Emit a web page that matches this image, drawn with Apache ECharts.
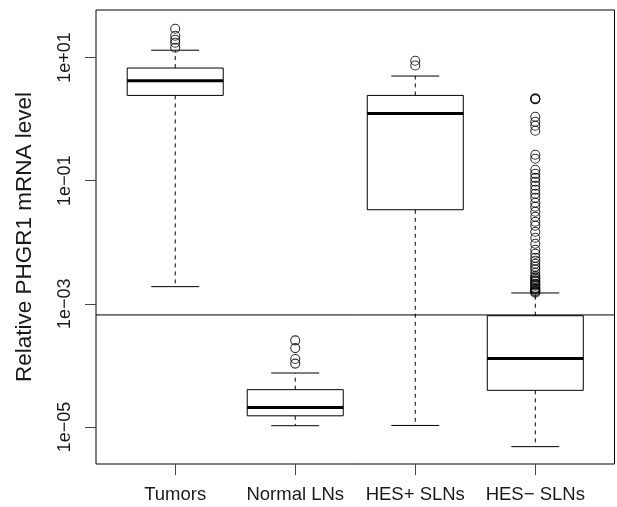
<!DOCTYPE html>
<html><head><meta charset="utf-8">
<script src="https://cdn.jsdelivr.net/npm/echarts@6/dist/echarts.min.js"></script>
<style>html,body{margin:0;padding:0;background:#fff}#c{width:617px;height:507px}</style>
</head><body><div id="c"></div>
<script>
const categories = ['Tumors', 'Normal LNs', 'HES+ SLNs', 'HES\u2212 SLNs'];
// [lower whisker, Q1, median, Q3, upper whisker]
const tumorsBox = [0.0019, 2.42, 4.19, 6.73, 13.1];
const normalBox = [1.05e-5, 1.52e-5, 2.08e-5, 4.04e-5, 7.53e-5];
const hesPosBox = [1.06e-5, 0.0337, 1.23, 2.42, 4.99];
const hesNegBox = [4.8e-6, 3.94e-5, 1.29e-4, 6.41e-4, 0.0015];
const tumorsOut = [29.2, 22.5, 19.4, 17.3, 14.4];
const normalOut = [2.55e-4, 1.91e-4, 1.27e-4, 1.07e-4];
const hesPosOut = [8.83, 7.41];
const hesNegOut = [2.18, 2.12, 2.09, 1.09, 0.904, 0.778, 0.646, 0.263, 0.227, 0.150, 0.129, 0.111,
  0.0959, 0.0826, 0.0711, 0.0612, 0.0527, 0.0438, 0.0377, 0.0313, 0.0259, 0.0215, 0.0185, 0.0148,
  0.0118, 0.00946, 0.00755, 0.00650, 0.00560, 0.00501, 0.00448, 0.00400, 0.00363, 0.00320, 0.00286,
  0.00270, 0.00255, 0.00240, 0.00229, 0.00212, 0.00205, 0.00197, 0.00182, 0.00175, 0.00169, 0.00162,
  0.00157, 0.00152];
const thresholdLine = [6.6e-4];
const yTicks = [1e-5, 1e-3, 1e-1, 10];
const yTickLabels = ['1e\u221205', '1e\u221203', '1e\u221201', '1e+01'];

const boxes = [tumorsBox, normalBox, hesPosBox, hesNegBox];
const outs = [tumorsOut, normalOut, hesPosOut, hesNegOut];
const boxData = boxes.map((b, i) => [i + 1].concat(b));
const outData = [];
outs.forEach((arr, i) => arr.forEach(v => outData.push([i + 1, v])));

const font = 'Liberation Sans, Arial, Helvetica, sans-serif';
const chart = echarts.init(document.getElementById('c'), null, {renderer: 'canvas'});
chart.setOption({
  animation: false,
  backgroundColor: '#fff',
  grid: {left: 96, right: 2.5, top: 10, bottom: 43, show: true, borderColor: '#000', borderWidth: 1, backgroundColor: 'transparent'},
  xAxis: {
    type: 'value', min: 0.34, max: 4.66,
    axisLine: {show: false},
    splitLine: {show: false},
    axisTick: {show: true, customValues: [1, 2, 3, 4], length: 11, lineStyle: {color: '#444', width: 1}},
    axisLabel: {customValues: [1, 2, 3, 4], formatter: v => categories[Math.round(v) - 1], margin: 21,
      fontSize: 18.5, color: '#1a1a1a', fontFamily: font}
  },
  yAxis: {
    type: 'log', logBase: 10, min: 2.51e-6, max: 58.9,
    axisLine: {show: false},
    splitLine: {show: false},
    axisTick: {show: true, customValues: yTicks, length: 11, lineStyle: {color: '#444', width: 1}},
    axisLabel: {customValues: yTicks, rotate: 90, margin: 22, fontSize: 18, color: '#1a1a1a', fontFamily: font,
      formatter: v => { const k = yTicks.findIndex(t => Math.abs(Math.log10(t) - Math.log10(v)) < 1e-6); return k >= 0 ? yTickLabels[k] : ''; }},
    name: 'Relative PHGR1 mRNA level', nameLocation: 'middle', nameRotate: 90, nameGap: 60,
    nameTextStyle: {fontSize: 22.5, color: '#1a1a1a', fontFamily: font}
  },
  series: [
    {
      type: 'custom',
      data: boxData,
      encode: {x: 0, y: [1, 2, 3, 4, 5]},
      renderItem: function (params, api) {
        const x = api.value(0);
        const pMin = api.coord([x, api.value(1)]);
        const pQ1 = api.coord([x, api.value(2)]);
        const pMed = api.coord([x, api.value(3)]);
        const pQ3 = api.coord([x, api.value(4)]);
        const pMax = api.coord([x, api.value(5)]);
        const left = api.coord([x - 0.4, api.value(3)])[0];
        const right = api.coord([x + 0.4, api.value(3)])[0];
        const cl = api.coord([x - 0.2, api.value(3)])[0];
        const cr = api.coord([x + 0.2, api.value(3)])[0];
        const cx = pMed[0];
        const solid = {stroke: '#000', lineWidth: 1, fill: null};
        const dashed = {stroke: '#000', lineWidth: 1, lineDash: [4, 4], fill: null};
        return {type: 'group', children: [
          {type: 'line', shape: {x1: cx, y1: pQ3[1], x2: cx, y2: pMax[1]}, style: dashed},
          {type: 'line', shape: {x1: cx, y1: pQ1[1], x2: cx, y2: pMin[1]}, style: dashed},
          {type: 'line', shape: {x1: cl, y1: pMax[1], x2: cr, y2: pMax[1]}, style: solid},
          {type: 'line', shape: {x1: cl, y1: pMin[1], x2: cr, y2: pMin[1]}, style: solid},
          {type: 'rect', shape: {x: left, y: pQ3[1], width: right - left, height: pQ1[1] - pQ3[1]}, style: {stroke: '#000', lineWidth: 1, fill: 'rgba(0,0,0,0)'}},
          {type: 'line', shape: {x1: left, y1: pMed[1], x2: right, y2: pMed[1]}, style: {stroke: '#000', lineWidth: 3}}
        ]};
      },
      z: 2
    },
    {
      type: 'custom',
      data: thresholdLine.map(v => [1, v]),
      encode: {x: 0, y: 1},
      renderItem: function (params, api) {
        const cs = params.coordSys;
        const y = api.coord([api.value(0), api.value(1)])[1];
        return {type: 'line', shape: {x1: cs.x, y1: y, x2: cs.x + cs.width, y2: y}, style: {stroke: '#000', lineWidth: 1}};
      },
      z: 2
    },
    {
      type: 'scatter',
      data: outData,
      symbol: 'circle',
      symbolSize: 9,
      itemStyle: {color: 'rgba(0,0,0,0)', borderColor: '#000', borderWidth: 1.1},
      z: 3
    }
  ]
});
</script>
</body></html>
